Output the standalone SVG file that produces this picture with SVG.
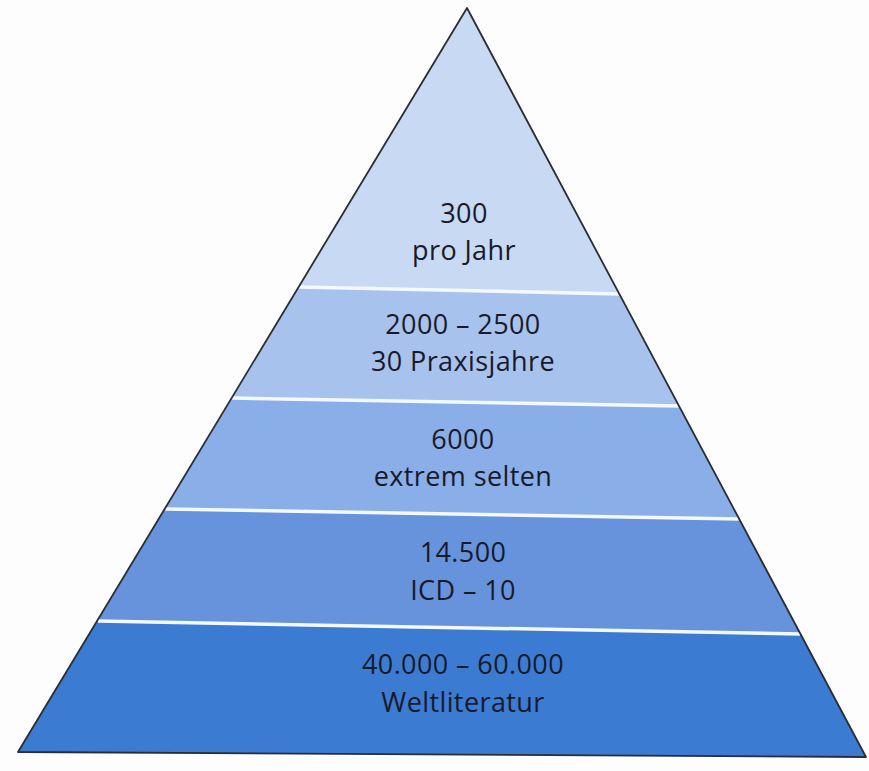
<svg xmlns="http://www.w3.org/2000/svg" width="869" height="771" viewBox="0 0 869 771">
<style>
.t{font-family:"Open Sans","Noto Sans","Liberation Sans",sans-serif;font-size:27px;letter-spacing:0.4px;fill:#181a2a;text-anchor:middle}
.sep{stroke:#f4f8ff;stroke-width:3.5;fill:none}
.edge{stroke:#2a2d33;stroke-width:1.8;fill:none;stroke-linejoin:round}
</style>
<rect width="869" height="771" fill="#fdfdfd"/>
<g id="level1">
<polygon points="467,8 299.2,286 618.8,293" fill="#c7d9f3"/>
<text class="t" x="464" y="223">300</text>
<text class="t" x="464" y="260">pro Jahr</text>
</g>
<g id="level2">
<polygon points="299.2,286 618.8,293 678.5,405 232.2,397" fill="#a8c2ee"/>
<text class="t" x="463" y="334">2000 – 2500</text>
<text class="t" x="463" y="371">30 Praxisjahre</text>
</g>
<g id="level3">
<polygon points="232.2,397 678.5,405 738.7,518 165.3,508" fill="#8aaee7"/>
<text class="t" x="463" y="449">6000</text>
<text class="t" x="463" y="486">extrem selten</text>
</g>
<g id="level4">
<polygon points="165.3,508 738.7,518 800,633 97.7,620" fill="#6693dc"/>
<text class="t" x="463" y="562">14.500</text>
<text class="t" x="463" y="600">ICD – 10</text>
</g>
<g id="level5">
<polygon points="97.7,620 800,633 866,757 18,752" fill="#3c7bd2"/>
<text class="t" x="463" y="674">40.000 – 60.000</text>
<text class="t" x="463" y="712">Weltliteratur</text>
</g>
<g id="connectors">
<line class="sep" x1="299.2" y1="287" x2="618.8" y2="294"/>
<line class="sep" x1="232.2" y1="398" x2="678.5" y2="406"/>
<line class="sep" x1="165.3" y1="509" x2="738.7" y2="519"/>
<line class="sep" x1="97.7" y1="621" x2="800" y2="634"/>
<polygon class="edge" points="467,8 866,757 18,752"/>
</g>
</svg>
